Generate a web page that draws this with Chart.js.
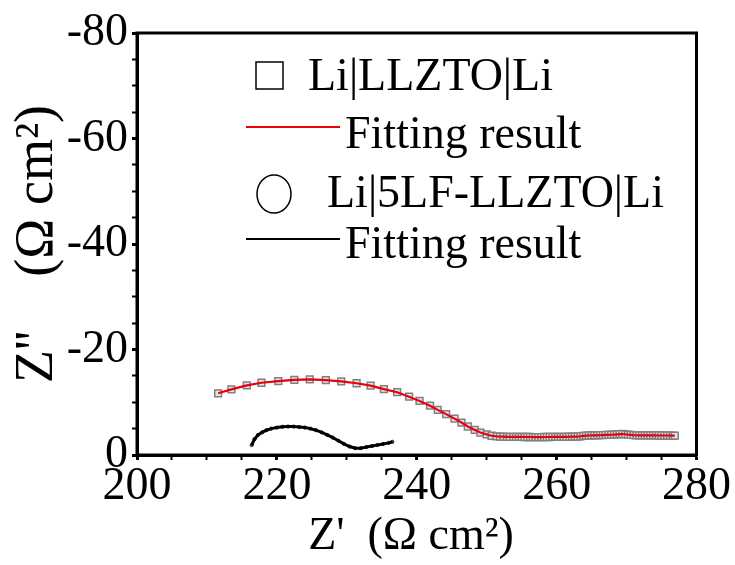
<!DOCTYPE html>
<html>
<head>
<meta charset="utf-8">
<script src="https://cdn.jsdelivr.net/npm/chart.js@4"></script>
<style>
  html, body { margin: 0; padding: 0; background: #fff; }
  #wrap { width: 735px; height: 565px; }
</style>
</head>
<body>
<div id="wrap"><canvas id="c" width="735" height="565"></canvas></div>
<script>
// ---- Data ----
const llztoX = [211.6, 213.5, 215.7, 217.8, 220.2, 222.5, 224.7, 227.0, 229.2, 231.4, 233.4, 235.3, 237.2, 238.9, 240.4, 241.9, 243.0, 244.2, 245.4, 246.4, 247.3, 248.3, 249.1, 250.0, 250.7, 251.4,
  251.9, 252.4, 252.9, 253.3, 253.8, 254.2, 254.6, 255.0, 255.4, 255.8, 256.2, 256.6, 257.0, 257.4, 257.8, 258.2, 258.6, 259.0, 259.4, 259.8, 260.2, 260.6, 261.0, 261.4, 261.8, 262.2, 262.6, 263.0, 263.4, 263.8, 264.2, 264.6, 265.0, 265.4, 265.8, 266.2, 266.6, 267.0, 267.4, 267.8, 268.2, 268.6, 269.0, 269.4, 269.8, 270.2, 270.6, 271.0, 271.4, 271.8, 272.2, 272.6, 273.0, 273.4, 273.8, 274.2, 274.6, 275.0, 275.4, 275.8, 276.2, 276.6, 276.9];
const llztoY = [-11.7, -12.45, -13.2, -13.7, -14.0, -14.25, -14.35, -14.2, -13.95, -13.6, -13.15, -12.5, -11.9, -11.05, -10.25, -9.35, -8.55, -7.75, -6.9, -6.15, -5.4, -4.75, -4.25, -3.9, -3.65, -3.55,
  -3.5, -3.47, -3.45, -3.44, -3.43, -3.42, -3.42, -3.42, -3.41, -3.41, -3.41, -3.4, -3.4, -3.4, -3.4, -3.41, -3.41, -3.41, -3.42, -3.42, -3.43, -3.43, -3.44, -3.45, -3.46, -3.47, -3.48, -3.5, -3.55, -3.62, -3.68, -3.7, -3.71, -3.72, -3.74, -3.76, -3.78, -3.8, -3.82, -3.84, -3.86, -3.9, -3.95, -3.98, -3.93, -3.85, -3.8, -3.76, -3.74, -3.73, -3.72, -3.72, -3.72, -3.71, -3.71, -3.71, -3.7, -3.7, -3.7, -3.7, -3.69, -3.69, -3.69];

const lfX = [216.4, 216.8, 217.3, 217.9, 218.5, 219.2, 220.0, 220.8, 221.6, 222.4, 223.2, 224.0, 224.8, 225.6, 226.4, 227.2, 228.0, 228.8, 229.6, 230.4, 231.2, 232.0, 232.8, 233.6, 234.4, 235.2, 236.0, 236.5];
const lfY = [-1.9, -3.0, -3.8, -4.3, -4.7, -5.0, -5.2, -5.35, -5.4, -5.38, -5.3, -5.2, -5.0, -4.7, -4.3, -3.8, -3.3, -2.7, -2.1, -1.6, -1.3, -1.3, -1.5, -1.7, -1.9, -2.1, -2.3, -2.5];

const xTickValues = [200, 220, 240, 260, 280];
const xTickLabels = ['200', '220', '240', '260', '280'];
const yTickValues = [-80, -60, -40, -20, 0];
const yTickLabels = ['-80', '-60', '-40', '-20', '0'];

const legendLabels = ['Li|LLZTO|Li', 'Fitting result', 'Li|5LF-LLZTO|Li', 'Fitting result'];
const xTitle = "Z'  (\u03A9 cm\u00B2) ";
const yTitle = "Z''    (\u03A9 cm\u00B2)";

// ---- Build chart ----
const pts = (xs, ys) => xs.map((x, i) => ({ x: x, y: ys[i] }));
const FONT = '"Liberation Serif", "Times New Roman", serif';

const frame = {
  id: 'frame',
  afterDraw(chart) {
    const { ctx, chartArea: a } = chart;
    ctx.save();
    ctx.strokeStyle = '#000';
    ctx.lineWidth = 3;
    ctx.strokeRect(a.left, a.top, a.right - a.left, a.bottom - a.top);
    ctx.restore();
  }
};

const legendBox = {
  id: 'legendBox',
  afterDraw(chart) {
    const ctx = chart.ctx;
    ctx.save();
    ctx.font = '46px ' + FONT;
    ctx.fillStyle = '#000';
    ctx.textBaseline = 'alphabetic';
    ctx.textAlign = 'left';
    // row 1: square
    ctx.strokeStyle = '#000';
    ctx.lineWidth = 1.5;
    ctx.strokeRect(256, 62, 27, 27);
    ctx.fillText(legendLabels[0], 308, 90);
    // row 2: red line
    ctx.strokeStyle = '#e8000b';
    ctx.lineWidth = 2;
    ctx.beginPath(); ctx.moveTo(246, 127); ctx.lineTo(340, 127); ctx.stroke();
    ctx.fillText(legendLabels[1], 345, 148);
    // row 3: circle
    ctx.strokeStyle = '#000';
    ctx.lineWidth = 1.5;
    ctx.beginPath(); ctx.ellipse(274, 194, 17, 19, 0, 0, Math.PI * 2); ctx.stroke();
    ctx.fillText(legendLabels[2], 327, 207);
    // row 4: black line
    ctx.lineWidth = 2;
    ctx.beginPath(); ctx.moveTo(246, 239); ctx.lineTo(340, 239); ctx.stroke();
    ctx.fillText(legendLabels[3], 345, 258);
    ctx.restore();
  }
};

new Chart(document.getElementById('c'), {
  type: 'scatter',
  data: {
    datasets: [
      { label: legendLabels[1], data: pts(llztoX, llztoY), showLine: true, borderColor: '#e8000b', borderWidth: 2.2, pointRadius: 0, order: 1 },
      { label: legendLabels[0], data: pts(llztoX, llztoY), showLine: false, pointStyle: 'rect', pointRadius: 4.8, borderColor: '#808080', backgroundColor: '#e4e4e4', pointBorderWidth: 1.5, order: 2 },
      { label: legendLabels[3], data: pts(lfX, lfY), showLine: true, borderColor: '#000', borderWidth: 3, pointRadius: 0, order: 3 },
      { label: legendLabels[2], data: pts(lfX, lfY), showLine: false, pointStyle: 'circle', pointRadius: 1.6, borderColor: '#222', backgroundColor: '#444', pointBorderWidth: 1, order: 4 }
    ]
  },
  options: {
    responsive: false,
    animation: false,
    devicePixelRatio: 1,
    layout: { padding: { top: 33, right: 38, left: 0, bottom: 0 } },
    plugins: { legend: { display: false }, tooltip: { enabled: false } },
    scales: {
      x: {
        type: 'linear', min: 200, max: 280,
        afterFit(s) { s.height = 110; },
        border: { display: true, color: '#000', width: 3 },
        grid: {
          drawOnChartArea: false, drawTicks: true, tickLength: 5,
          tickColor: '#000',
          tickWidth: c => (xTickValues.includes(c.tick.value) ? 3 : 2)
        },
        ticks: {
          stepSize: 5, autoSkip: false, maxRotation: 0, padding: 4,
          color: '#000', font: { family: FONT, size: 46, lineHeight: 1.0 },
          callback: v => { const i = xTickValues.indexOf(v); return i >= 0 ? xTickLabels[i] : ''; }
        },
        title: { display: true, text: xTitle, color: '#000', font: { family: FONT, size: 46, lineHeight: 1.2 }, padding: { top: 0, bottom: 0 } }
      },
      y: {
        type: 'linear', min: -80, max: 0, reverse: true,
        afterFit(s) { s.width = 137; },
        border: { display: true, color: '#000', width: 3 },
        grid: {
          drawOnChartArea: false, drawTicks: true, tickLength: 5,
          tickColor: '#000',
          tickWidth: c => (yTickValues.includes(c.tick.value) ? 3 : 2)
        },
        ticks: {
          stepSize: 5, autoSkip: false, padding: 4,
          color: '#000', font: { family: FONT, size: 46, lineHeight: 1.0 },
          callback: v => { const i = yTickValues.indexOf(v); return i >= 0 ? yTickLabels[i] : ''; }
        },
        title: { display: true, text: yTitle, color: '#000', font: { family: FONT, size: 54, lineHeight: 1.2 }, padding: { top: 5, bottom: 0 } }
      }
    }
  },
  plugins: [frame, legendBox]
});
</script>
</body>
</html>
